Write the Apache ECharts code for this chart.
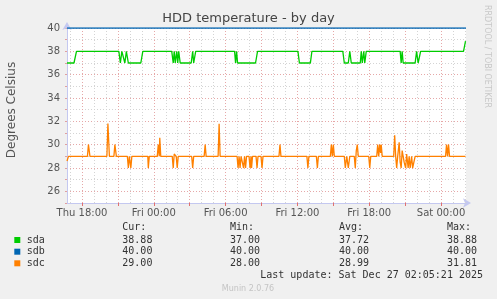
<!DOCTYPE html>
<html><head><meta charset="utf-8">
<script src="https://cdn.jsdelivr.net/npm/echarts@6/dist/echarts.min.js"></script>
<style>html,body{margin:0;padding:0;background:#f0f0f0}#c{width:497px;height:299px}</style>
</head><body><div id="c"></div>
<script>
// ---- data (x = hours since Thu 00:00) ----
const chartTitle = 'HDD temperature - by day';
const yTitle = 'Degrees Celsius';
const xStart = 16.75, xEnd = 50.083;
const xLabelHours = [18, 24, 30, 36, 42, 48];
const xLabelTexts = ['Thu 18:00', 'Fri 00:00', 'Fri 06:00', 'Fri 12:00', 'Fri 18:00', 'Sat 00:00'];
const majorHours = [18, 21, 24, 27, 30, 33, 36, 39, 42, 45, 48];
const minorHours = [17, 19, 20, 22, 23, 25, 26, 28, 29, 31, 32, 34, 35, 37, 38, 40, 41, 43, 44, 46, 47, 49, 50];
const yMin = 25, yMax = 40;

const seriesNames = ['sda', 'sdb', 'sdc'];
const seriesColors = ['#00cc00', '#0066b3', '#ff8000'];
const curVals = ['38.88', '40.00', '29.00'];
const minVals = ['37.00', '40.00', '28.00'];
const avgVals = ['37.72', '40.00', '28.99'];
const maxVals = ['38.88', '40.00', '31.81'];
const lastUpdate = 'Last update: Sat Dec 27 02:05:21 2025';
const version = 'Munin 2.0.76';
const sideText = 'RRDTOOL / TOBI OETIKER';

const sdaData = [
  [16.75,37],[17.333,37],[17.542,38],[21.083,38],[21.208,37],[21.333,38],[21.458,38],[21.583,37],
  [21.708,38],[21.875,37],[22.917,37],[23.083,38],[25.5,38],[25.625,37],[25.708,38],[25.792,37],
  [25.917,38],[26.0,37],[26.083,38],[26.208,37],[27.125,37],[27.25,38],[27.333,37],[27.5,38],
  [30.75,38],[30.833,37],[30.917,38],[31.0,37],[32.5,37],[32.667,38],[36.042,38],[36.167,37],
  [37.083,37],[37.208,38],[39.792,38],[39.917,37],[40.25,37],[40.375,38],[40.5,37],[41.25,37],
  [41.333,38],[41.417,37],[41.542,38],[41.625,37],[41.75,38],[44.583,38],[44.667,37],[44.75,38],
  [44.833,37],[45.833,37],[45.958,38],[46.083,37],[46.292,38],[49.875,38],[50.042,38.88]
];
const sdbData = [[16.75,40],[50.083,40]];
const sdcData = [
  [16.75,28.6],[16.875,29],[18.458,29],[18.542,30],[18.667,29],[20.083,29],[20.167,31.81],[20.292,29],
  [20.667,29],[20.75,30],[20.875,29],[21.792,29],[21.875,28],[21.958,29],[22.083,28],[22.167,29],
  [23.5,29],[23.542,28],[23.625,29],[24.292,29],[24.375,30],[24.458,29],[24.5,30.6],[24.583,29],
  [25.542,29],[25.625,28],[25.708,29.2],[25.875,29],[25.958,28],[26.042,29],[27.167,29],[27.25,28],
  [27.333,29],[28.208,29],[28.292,30],[28.375,29],[29.375,29],[29.458,31.8],[29.542,29],[30.958,29],
  [31.042,28],[31.125,29],[31.208,28],[31.292,29],[31.417,29],[31.5,28],[31.583,29],[31.667,28],
  [31.75,29],[31.958,29],[32.042,28],[32.125,29],[32.167,28],[32.25,29],[32.542,29],[32.625,28],
  [32.708,29],[32.958,29],[33.042,28],[33.125,29],[34.458,29],[34.542,30],[34.625,29],[36.792,29],
  [36.875,28],[36.958,29],[37.583,29],[37.667,28],[37.75,29],[38.75,29],[38.833,30],[38.917,29],
  [39.0,30],[39.083,29],[39.917,29],[40.0,28],[40.125,29],[40.25,28],[40.375,29],[40.75,29],
  [40.833,28],[40.917,29.5],[41.0,30],[41.083,29],[41.958,29],[42.042,28],[42.125,29],[42.625,29],
  [42.708,30],[42.792,29],[42.875,30],[42.958,29.3],[43.0,30],[43.083,29],[44.042,29],[44.125,30.8],
  [44.208,29],[44.292,28],[44.375,29],[44.5,30.2],[44.583,28.5],[44.667,28],[44.75,29.5],[44.833,29],
  [44.917,28.5],[45.042,28],[45.125,29.2],[45.25,28],[45.333,29],[45.417,28],[45.542,29],[45.625,28],
  [45.708,28],[45.833,29],[48.375,29],[48.458,30],[48.542,29],[48.625,30],[48.708,29],[50.042,29]
];
const seriesData = [sdaData, sdbData, sdcData];

// ---- chart ----
const chart = echarts.init(document.getElementById('c'), null, {renderer: 'canvas'});
const axisCol = '#c4c8f0';
const minorCol = '#d4d4d4';
const majorCol = '#e6a8a8';
const sans = 'DejaVu Sans';
const mono = 'DejaVu Sans Mono';

const graphics = [
  {type: 'rect', shape: {x: 67, y: 28, width: 399, height: 175}, style: {fill: '#ffffff'}, z: -10, silent: true},
  {type: 'text', x: 12, y: 110, rotation: Math.PI / 2,
   style: {text: yTitle, font: '12px "' + sans + '"', fill: '#555', align: 'center', verticalAlign: 'middle'}},
  {type: 'text', x: 487, y: 5, rotation: -Math.PI / 2,
   style: {text: sideText, font: '8px "' + sans + '"', fill: '#c8c8c8', align: 'left', verticalAlign: 'middle'}},
  {type: 'text', x: 248, y: 288.5,
   style: {text: version, font: '8px "' + sans + '"', fill: '#c4c4c4', align: 'center', verticalAlign: 'middle'}},
  {type: 'text', x: 483, y: 275.7,
   style: {text: lastUpdate, font: '10px "' + mono + '"', fill: '#333', align: 'right', verticalAlign: 'middle'}}
];
const colX = [122.3, 230, 339, 447];
const headers = ['Cur:', 'Min:', 'Avg:', 'Max:'];
headers.forEach((h, i) => graphics.push({type: 'text', x: colX[i], y: 227.7,
  style: {text: h, font: '10px "' + mono + '"', fill: '#333', align: 'left', verticalAlign: 'middle'}}));
const rowY = [240, 251.7, 263.3];
seriesNames.forEach((n, r) => {
  graphics.push({type: 'rect', shape: {x: 14.3, y: rowY[r] - 3, width: 6, height: 6}, style: {fill: seriesColors[r]}});
  graphics.push({type: 'text', x: 26.7, y: rowY[r],
    style: {text: n, font: '10px "' + mono + '"', fill: '#333', align: 'left', verticalAlign: 'middle'}});
  [curVals, minVals, avgVals, maxVals].forEach((arr, c) => graphics.push({type: 'text', x: colX[c], y: rowY[r],
    style: {text: arr[r], font: '10px "' + mono + '"', fill: '#333', align: 'left', verticalAlign: 'middle'}}));
});

const gridLineSeries = (hours, color, z) => ({
  type: 'line', data: [], z: z, silent: true,
  markLine: {silent: true, symbol: ['none', 'none'], animation: false, label: {show: false},
    lineStyle: {color: color, type: [1, 2], width: 1},
    emphasis: {disabled: true},
    data: hours.map(h => ({xAxis: h}))}
});

chart.setOption({
  animation: false,
  backgroundColor: '#f0f0f0',
  title: {text: chartTitle, left: 'center', top: 12, padding: 0,
    textStyle: {fontSize: 13, fontWeight: 'normal', color: '#444', fontFamily: sans}},
  grid: {left: 67, right: 31, top: 28, bottom: 96, containLabel: false},
  xAxis: {type: 'value', min: xStart, max: xEnd,
    axisLine: {lineStyle: {color: axisCol, width: 1}, symbol: ['none', 'arrow'], symbolSize: [7, 8], symbolOffset: [0, 5]},
    axisTick: {show: true, customValues: majorHours, length: 3, lineStyle: {color: '#e07070'}},
    axisLabel: {customValues: xLabelHours, margin: 5, fontSize: 10, color: '#555', fontFamily: sans,
      formatter: v => xLabelTexts[xLabelHours.indexOf(Math.round(v))] || ''},
    splitLine: {show: false}},
  yAxis: {type: 'value', min: yMin, max: yMax, interval: 1,
    axisLine: {show: true, lineStyle: {color: axisCol, width: 1}, symbol: ['none', 'arrow'], symbolSize: [7, 8], symbolOffset: [0, 6]},
    axisTick: {show: true, length: 2, lineStyle: {color: '#e0a0a0'}},
    axisLabel: {margin: 7, fontSize: 10, color: '#555', fontFamily: sans,
      formatter: v => (v % 2 === 0 ? String(v) : '')},
    splitLine: {show: true, lineStyle: {color: [minorCol, majorCol], type: [1, 2], width: 1}}},
  graphic: {elements: graphics},
  series: [
    gridLineSeries(minorHours, minorCol, 1),
    gridLineSeries(majorHours, majorCol, 2),
  ].concat(seriesNames.map((n, i) => ({
    name: n, type: 'line', data: seriesData[i], showSymbol: false, symbol: 'none', z: 5 + i,
    lineStyle: {color: seriesColors[i], width: 1.3}, itemStyle: {color: seriesColors[i]}
  })))
});
</script>
</body></html>
